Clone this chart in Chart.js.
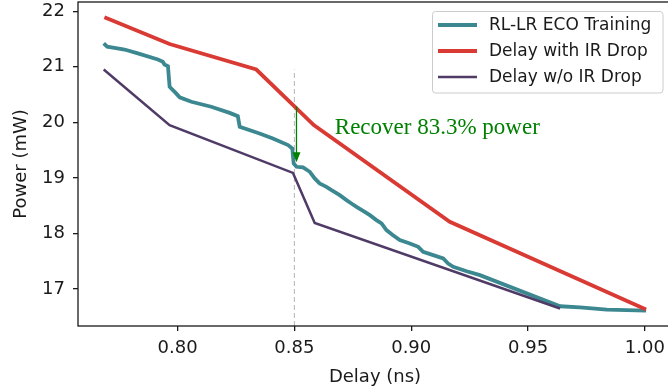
<html>
  <head>
    <script src="https://cdn.jsdelivr.net/npm/chart.js@4.4.0/dist/chart.umd.min.js"></script>
    <style>
      html, body {
        margin: 0;
        padding: 0;
        overflow: hidden;
        background: #ffffff;
      }
      #chartCtn {
        width: 680px;
        height: 389px;
      }
    </style>
    <title>Power vs Delay</title>
  </head>
  <body>
    <div id="chartCtn">
      <canvas id="canvas"></canvas>
    </div>

    <script type="text/javascript">
      // series (delay in ns, power in mW)
      var ecoDelay = [0.7684, 0.7699, 0.7730, 0.7773, 0.7830, 0.7916, 0.7937, 0.7944, 0.7959, 0.7966,
                      0.7980, 0.7994, 0.8009, 0.8059, 0.8144, 0.8223, 0.8258, 0.8266, 0.8351, 0.8408,
                      0.8473, 0.8491, 0.8497, 0.8509, 0.8537, 0.8566, 0.8587, 0.8608, 0.8637, 0.8659,
                      0.8694, 0.8723, 0.8744, 0.8766, 0.8801, 0.8823, 0.8851, 0.8873, 0.8894, 0.8922,
                      0.8951, 0.8994, 0.9030, 0.9051, 0.9094, 0.9137, 0.9158, 0.9180, 0.9237, 0.9294,
                      0.9637, 0.9722, 0.9837, 1.0005];
      var ecoPower = [21.42, 21.36, 21.34, 21.31, 21.24, 21.13, 21.09, 21.04, 21.01, 20.64,
                      20.58, 20.52, 20.45, 20.37, 20.28, 20.17, 20.11, 19.92, 19.80, 19.71,
                      19.59, 19.53, 19.26, 19.20, 19.19, 19.11, 18.99, 18.90, 18.84, 18.78,
                      18.69, 18.60, 18.54, 18.48, 18.39, 18.33, 18.24, 18.18, 18.06, 17.97,
                      17.88, 17.82, 17.76, 17.67, 17.61, 17.55, 17.46, 17.40, 17.32, 17.25,
                      16.69, 16.67, 16.63, 16.61];

      var irDelay = [0.7687, 0.7966, 0.8337, 0.8583, 0.9165, 1.0005];
      var irPower = [21.89, 21.41, 20.95, 19.95, 18.21, 16.63];

      var noIrDelay = [0.7684, 0.7966, 0.8494, 0.8587, 0.9637];
      var noIrPower = [20.95, 19.95, 19.09, 18.19, 16.65];

      var seriesNames = ["RL-LR ECO Training", "Delay with IR Drop", "Delay w/o IR Drop"];
      var seriesColors = ["#3c8891", "#d93a34", "#4f3b66"];
      var seriesWidths = [3.8, 3.8, 2.5];

      var xTicks = [0.80, 0.85, 0.90, 0.95, 1.00];
      var yTicks = [17, 18, 19, 20, 21, 22];
      var xRange = [0.7574, 1.0116];
      var yRange = [16.335, 22.165];

      // annotation: dashed marker at 0.85 and the arrow from red to teal
      var markerX = 0.85;
      var markerTop = 20.95;
      var arrowX = 0.8509;
      var arrowFrom = 20.29;
      var arrowTo = 19.28;
      var noteText = "Recover 83.3% power";
      var notePos = [0.8673, 19.79];

      function pairs(xs, ys){
        var out = [];
        for(var i = 0; i < xs.length; i++){
          out.push({x: xs[i], y: ys[i]});
        }
        return out;
      }

      var frameAndNotes = {
        id: "frameAndNotes",
        afterDatasetsDraw: function(chart){
          var ctx = chart.ctx;
          var a = chart.chartArea;
          var xs = chart.scales.x, ys = chart.scales.y;
          ctx.save();

          // arrow head
          var ax = xs.getPixelForValue(arrowX);
          var tip = ys.getPixelForValue(arrowTo);
          ctx.fillStyle = "#008000";
          ctx.beginPath();
          ctx.moveTo(ax, tip);
          ctx.lineTo(ax - 4, tip - 10);
          ctx.lineTo(ax + 4, tip - 10);
          ctx.closePath();
          ctx.fill();

          // note text
          ctx.font = "23px 'Liberation Serif'";
          ctx.textBaseline = "alphabetic";
          ctx.textAlign = "left";
          ctx.fillText(noteText, xs.getPixelForValue(notePos[0]), ys.getPixelForValue(notePos[1]));

          // frame
          ctx.strokeStyle = "#1a1a1a";
          ctx.lineWidth = 1.3;
          ctx.strokeRect(a.left, a.top, a.right - a.left, a.bottom - a.top);

          // legend box
          var bx = 432.5, by = 11.5, bw = 230.5, bh = 81.5, r = 3;
          ctx.fillStyle = "rgba(255,255,255,0.85)";
          ctx.strokeStyle = "#cccccc";
          ctx.lineWidth = 1;
          ctx.beginPath();
          ctx.moveTo(bx + r, by);
          ctx.arcTo(bx + bw, by, bx + bw, by + bh, r);
          ctx.arcTo(bx + bw, by + bh, bx, by + bh, r);
          ctx.arcTo(bx, by + bh, bx, by, r);
          ctx.arcTo(bx, by, bx + bw, by, r);
          ctx.closePath();
          ctx.fill();
          ctx.stroke();

          ctx.font = "17px 'DejaVu Sans'";
          ctx.textBaseline = "middle";
          for(var i = 0; i < 3; i++){
            var ds = chart.data.datasets[i];
            var rowY = 25 + i * 26;
            ctx.strokeStyle = ds.borderColor;
            ctx.lineWidth = ds.borderWidth;
            ctx.beginPath();
            ctx.moveTo(438, rowY);
            ctx.lineTo(477, rowY);
            ctx.stroke();
            ctx.fillStyle = "#1a1a1a";
            ctx.fillText(ds.label, 489, rowY + 1);
          }
          ctx.restore();
        }
      };

      window.onload = function(){
        var ctx = document.getElementById("canvas");
        var datasets = [];
        var xsList = [ecoDelay, irDelay, noIrDelay];
        var ysList = [ecoPower, irPower, noIrPower];
        for(var i = 0; i < 3; i++){
          datasets.push({
            label: seriesNames[i],
            data: pairs(xsList[i], ysList[i]),
            borderColor: seriesColors[i],
            borderWidth: seriesWidths[i],
            pointRadius: 0,
            tension: 0,
            order: 3 - i
          });
        }
        datasets.push({
          label: "marker",
          data: [{x: markerX, y: yRange[0]}, {x: markerX, y: markerTop}],
          borderColor: "#b5b5b5",
          borderWidth: 1,
          borderDash: [5, 3],
          pointRadius: 0,
          order: 10
        });
        datasets.push({
          label: "arrow",
          data: [{x: arrowX, y: arrowFrom}, {x: arrowX, y: arrowTo + 0.15}],
          borderColor: "#008000",
          borderWidth: 1.3,
          pointRadius: 0,
          order: 0
        });

        new Chart(ctx, {
          type: "line",
          data: {datasets: datasets},
          options: {
            animation: false,
            responsive: true,
            maintainAspectRatio: false,
            layout: {padding: {top: 2, right: 8, left: 0, bottom: 0}},
            plugins: {legend: {display: false}, tooltip: {enabled: false}},
            scales: {
              x: {
                type: "linear",
                min: xRange[0],
                max: xRange[1],
                afterBuildTicks: function(scale){
                  scale.ticks = xTicks.map(function(v){ return {value: v}; });
                },
                afterFit: function(scale){
                  scale.height = 63;
                  scale.paddingLeft = 0;
                  scale.paddingRight = 0;
                },
                ticks: {
                  color: "#1a1a1a",
                  font: {family: "DejaVu Sans", size: 18},
                  padding: 7,
                  maxRotation: 0,
                  callback: function(v){ return v.toFixed(2); }
                },
                grid: {drawOnChartArea: false, drawTicks: true, tickLength: 5, color: "#1a1a1a", lineWidth: 1.3},
                border: {display: false},
                title: {display: true, text: "Delay (ns)", color: "#1a1a1a",
                        font: {family: "DejaVu Sans", size: 18}, padding: {top: 0, bottom: 1}}
              },
              y: {
                min: yRange[0],
                max: yRange[1],
                afterBuildTicks: function(scale){
                  scale.ticks = yTicks.map(function(v){ return {value: v}; });
                },
                afterFit: function(scale){
                  scale.width = 78;
                  scale.paddingTop = 0;
                  scale.paddingBottom = 0;
                },
                ticks: {
                  color: "#1a1a1a",
                  font: {family: "DejaVu Sans", size: 18},
                  padding: 8,
                  callback: function(v){ return String(v); }
                },
                grid: {drawOnChartArea: false, drawTicks: true, tickLength: 5, color: "#1a1a1a", lineWidth: 1.3},
                border: {display: false},
                title: {display: true, text: "Power (mW)", color: "#1a1a1a",
                        font: {family: "DejaVu Sans", size: 18}, padding: {top: 11, bottom: 0}}
              }
            }
          },
          plugins: [frameAndNotes]
        });
      };
    </script>
  </body>
</html>
